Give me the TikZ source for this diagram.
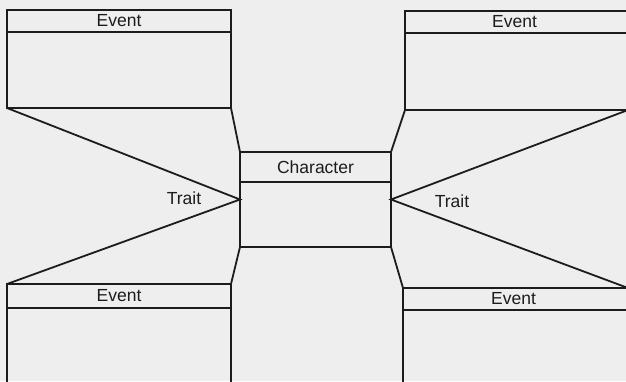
\documentclass[tikz,border=0pt]{standalone}
\usepackage{fontspec}
\setmainfont{Liberation Sans}
\definecolor{bg}{RGB}{238,238,238}
\definecolor{ink}{RGB}{28,28,28}
\begin{document}
\begin{tikzpicture}[x=1pt,y=-1pt,
  line width=1.8pt, draw=ink,
  box/.style={draw=ink, line width=1.8pt, rectangle, inner sep=0pt, outer sep=0pt, anchor=north west},
  lbl/.style={font=\fontsize{17.5}{20}\selectfont, text=ink, inner sep=0pt}]
\fill[bg] (0,0) rectangle (626,381);
\useasboundingbox (0,0) rectangle (626,381);
\clip (0,0) rectangle (626,381);
% Event boxes
\node[box, minimum width=224pt, minimum height=98pt] (e1) at (7,10) {};
\node[box, minimum width=223pt, minimum height=99pt] (e2) at (405,11) {};
\node[box, minimum width=224pt, minimum height=120pt] (e3) at (7,284) {};
\node[box, minimum width=225pt, minimum height=120pt] (e4) at (403,288) {};
% Character box
\node[box, minimum width=151pt, minimum height=95pt] (c) at (240,152) {};
% header dividers
\draw ([yshift=-22pt]e1.north west) -- ([yshift=-22pt]e1.north east);
\draw ([yshift=-22pt]e2.north west) -- ([yshift=-22pt]e2.north east);
\draw ([yshift=-24pt]e3.north west) -- ([yshift=-24pt]e3.north east);
\draw ([yshift=-22pt]e4.north west) -- ([yshift=-22pt]e4.north east);
\draw ([yshift=-30pt]c.north west) -- ([yshift=-30pt]c.north east);
% header labels
\node[lbl] (l1) at ([yshift=-11pt]e1.north) {Event};
\node[lbl] (l2) at ([xshift=-2pt,yshift=-11pt]e2.north) {Event};
\node[lbl] (l3) at ([yshift=-12pt]e3.north) {Event};
\node[lbl] (l4) at ([xshift=-2pt,yshift=-11pt]e4.north) {Event};
\node[lbl] (lc) at ([yshift=-15pt]c.north) {Character};
% connectors
\draw (e1.south east) -- (c.north west);
\draw (e2.south west) -- (c.north east);
\draw (e3.north east) -- (c.south west);
\draw (e4.north west) -- (c.south east);
% trait links
\draw (e1.south west) -- (c.west) -- (e3.north west);
\draw (e2.south east) -- (c.east) -- (e4.north east);
\node[lbl] (t1) at (184,198) {Trait};
\node[lbl] (t2) at (452,201) {Trait};
\end{tikzpicture}
\end{document}
